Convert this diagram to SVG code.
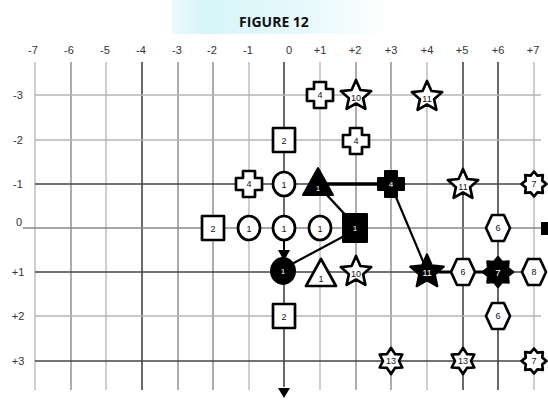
<svg xmlns="http://www.w3.org/2000/svg" width="548" height="401" viewBox="0 0 548 401">
<style>
.bg{fill:#fff}
.g1{stroke:#b4b4b4;stroke-width:1.3;fill:none}
.g2{stroke:#888;stroke-width:1.4;fill:none}
.g3{stroke:#444;stroke-width:1.6;fill:none}
.ax{font-family:"Liberation Sans",Arial,sans-serif;font-size:11px;fill:#333;text-anchor:middle}
.title{font-family:"Open Sans","Liberation Sans",sans-serif;font-size:14px;font-weight:bold;fill:#111;text-anchor:middle}
.w{fill:#fff;stroke:#000;stroke-width:2.7;stroke-linejoin:round}
.b{fill:#000;stroke:#000;stroke-width:2;stroke-linejoin:round}
.t{font-family:"Liberation Sans",Arial,sans-serif;font-size:9px;fill:#111;text-anchor:middle}
.tw{font-family:"Liberation Sans",Arial,sans-serif;font-size:8px;fill:#fff;text-anchor:middle}
.c{stroke:#000;fill:none;stroke-linecap:round}
</style>
<defs>
<linearGradient id="tg" x1="0" y1="0" x2="1" y2="0">
<stop offset="0" stop-color="#dcf6fa" stop-opacity="0.6"/>
<stop offset="0.15" stop-color="#d6f5fa"/>
<stop offset="0.6" stop-color="#e8f9fc"/>
<stop offset="1" stop-color="#ffffff"/>
</linearGradient>
<ellipse id="circ" cx="0" cy="0" rx="11" ry="12"/>
<rect id="sq" x="-11" y="-12" width="22" height="24"/>
<polygon id="cross" points="-6,-13 6,-13 6,-6 13,-6 13,6 6,6 6,13 -6,13 -6,6 -13,6 -13,-6 -6,-6"/>
<polygon id="star5" points="0,-16 4.4,-6 15.2,-4.9 7.1,2.3 9.4,12.9 0,7.5 -9.4,12.9 -7.1,2.3 -15.2,-4.9 -4.4,-6"/>
<polygon id="tri" points="0,-15 15,12 -15,12"/>
<polygon id="hex" points="-12,0 -6,-13 6,-13 12,0 6,13 -6,13"/>
<polygon id="star6" points="0,-13 4,-6.9 11.3,-6.5 8,0 11.3,6.5 4,6.9 0,13 -4,6.9 -11.3,6.5 -8,0 -11.3,-6.5 -4,-6.9"/>
<polygon id="star8" points="0,-12.5 3.4,-8.3 8.8,-8.8 8.3,-3.4 12.5,0 8.3,3.4 8.8,8.8 3.4,8.3 0,12.5 -3.4,8.3 -8.8,8.8 -8.3,3.4 -12.5,0 -8.3,-3.4 -8.8,-8.8 -3.4,-8.3"/>
</defs>
<rect class="bg" x="0" y="0" width="548" height="401"/>
<rect x="172" y="0" width="220" height="34" fill="url(#tg)"/>
<text class="title" x="274" y="27">FIGURE 12</text>

<g id="axis-labels">
<text class="ax" x="33" y="54">-7</text>
<text class="ax" x="69" y="54">-6</text>
<text class="ax" x="105" y="54">-5</text>
<text class="ax" x="141" y="54">-4</text>
<text class="ax" x="177" y="54">-3</text>
<text class="ax" x="212" y="54">-2</text>
<text class="ax" x="248" y="54">-1</text>
<text class="ax" x="289" y="54">0</text>
<text class="ax" x="320" y="54">+1</text>
<text class="ax" x="355" y="54">+2</text>
<text class="ax" x="391" y="54">+3</text>
<text class="ax" x="427" y="54">+4</text>
<text class="ax" x="462" y="54">+5</text>
<text class="ax" x="498" y="54">+6</text>
<text class="ax" x="533" y="54">+7</text>
<text class="ax" x="18" y="99">-3</text>
<text class="ax" x="18" y="144">-2</text>
<text class="ax" x="18" y="188">-1</text>
<text class="ax" x="19" y="226">0</text>
<text class="ax" x="18" y="276">+1</text>
<text class="ax" x="18" y="320">+2</text>
<text class="ax" x="18" y="365">+3</text>
</g>

<g id="grid">
<line class="g1" x1="35" y1="62" x2="35" y2="390"/>
<line class="g2" x1="71" y1="62" x2="71" y2="390"/>
<line class="g1" x1="106" y1="62" x2="106" y2="390"/>
<line class="g3" x1="142" y1="62" x2="142" y2="390"/>
<line class="g2" x1="178" y1="62" x2="178" y2="390"/>
<line class="g2" x1="213" y1="62" x2="213" y2="390"/>
<line class="g1" x1="249" y1="62" x2="249" y2="390"/>
<line class="g3" x1="284" y1="62" x2="284" y2="387"/>
<line class="g1" x1="320" y1="62" x2="320" y2="390"/>
<line class="g2" x1="356" y1="62" x2="356" y2="390"/>
<line class="g2" x1="391" y1="62" x2="391" y2="390"/>
<line class="g1" x1="427" y1="62" x2="427" y2="390"/>
<line class="g3" x1="463" y1="62" x2="463" y2="390"/>
<line class="g3" x1="498" y1="62" x2="498" y2="390"/>
<line class="g1" x1="534" y1="62" x2="534" y2="390"/>
<line class="g1" x1="35" y1="95" x2="541" y2="95"/>
<line class="g1" x1="35" y1="140" x2="541" y2="140"/>
<line class="g3" x1="35" y1="184" x2="541" y2="184"/>
<line class="g2" x1="23" y1="228" x2="541" y2="228"/>
<line class="g3" x1="35" y1="272" x2="541" y2="272"/>
<line class="g1" x1="35" y1="316" x2="541" y2="316"/>
<line class="g3" x1="35" y1="361" x2="541" y2="361"/>
</g>

<g id="connectors">
<line class="c" x1="320" y1="184" x2="391" y2="184" stroke-width="3.5"/>
<line class="c" x1="326" y1="194" x2="350" y2="220" stroke-width="2.5"/>
<line class="c" x1="348" y1="234" x2="290" y2="265" stroke-width="2.2"/>
<line class="c" x1="284" y1="240" x2="284" y2="252" stroke-width="2"/>
<polygon points="278,250 290,250 284,261" fill="#000"/>
<line class="c" x1="393" y1="190" x2="425" y2="266" stroke-width="2.2"/>
<line class="c" x1="427" y1="272" x2="498" y2="272" stroke-width="3"/>
<polygon points="278,388 290,388 284,398" fill="#000"/>
<polygon points="541,222 548,222 548,235 541,235" fill="#000"/>
</g>

<g id="n-m3-p1" transform="translate(320,95)"><use href="#cross" class="w"/><text class="t" y="3">4</text></g>
<g id="n-m3-p2" transform="translate(356,96)"><use href="#star5" class="w"/><text class="t" y="5" font-size="7">10</text></g>
<g id="n-m3-p4" transform="translate(427,97)"><use href="#star5" class="w"/><text class="t" y="5" font-size="7">11</text></g>

<g id="n-m2-0" transform="translate(284,140)"><use href="#sq" class="w"/><text class="t" y="4" font-size="10">2</text></g>
<g id="n-m2-p2" transform="translate(356,141)"><use href="#cross" class="w"/><text class="t" y="3">4</text></g>

<g id="n-m1-m1" transform="translate(249,184)"><use href="#cross" class="w"/><text class="t" y="3">4</text></g>
<g id="n-m1-0" transform="translate(284,184)"><use href="#circ" class="w"/><text class="t" y="4" font-size="10">1</text></g>
<g id="n-m1-p1" transform="translate(318,183)"><use href="#tri" class="b"/><text class="tw" y="8">1</text></g>
<g id="n-m1-p3" transform="translate(391,184)"><use href="#cross" class="b"/><text class="tw" y="3">4</text></g>
<g id="n-m1-p5" transform="translate(463,185)"><use href="#star5" class="w"/><text class="t" y="5" font-size="7">11</text></g>
<g id="n-m1-p7" transform="translate(534,184)"><use href="#star8" class="w"/><text class="t" y="3" font-size="8">7</text></g>

<g id="n-0-m2" transform="translate(213,228)"><use href="#sq" class="w"/><text class="t" y="4" font-size="10">2</text></g>
<g id="n-0-m1" transform="translate(249,228)"><use href="#circ" class="w"/><text class="t" y="4" font-size="10">1</text></g>
<g id="n-0-0" transform="translate(284,228)"><use href="#circ" class="w"/><text class="t" y="4" font-size="10">1</text></g>
<g id="n-0-p1" transform="translate(320,228)"><use href="#circ" class="w"/><text class="t" y="4" font-size="10">1</text></g>
<g id="n-0-p2" transform="translate(355,228)"><rect x="-12" y="-14" width="24" height="28" class="b"/><text class="tw" y="3">1</text></g>
<g id="n-0-p6" transform="translate(498,228)"><use href="#hex" class="w"/><text class="t" y="3">6</text></g>

<g id="n-p1-0" transform="translate(283,271)"><ellipse rx="12" ry="13" class="b"/><text class="tw" y="3">1</text></g>
<g id="n-p1-p1" transform="translate(321,274)"><use href="#tri" class="w"/><text class="t" y="8">1</text></g>
<g id="n-p1-p2" transform="translate(356,272)"><use href="#star5" class="w"/><text class="t" y="5" font-size="7">10</text></g>
<g id="n-p1-p4" transform="translate(427,272) scale(1.1)"><use href="#star5" class="b"/><text class="tw" y="4" font-size="6">11</text></g>
<g id="n-p1-p5" transform="translate(463,272)"><use href="#hex" class="w"/><text class="t" y="3">6</text></g>
<g id="n-p1-p6" transform="translate(498,272) scale(1.2)"><use href="#star8" class="b"/><text class="tw" y="3" font-size="7">7</text></g>
<g id="n-p1-p7" transform="translate(534,272)"><use href="#hex" class="w"/><text class="t" y="3">8</text></g>

<g id="n-p2-0" transform="translate(284,316)"><use href="#sq" class="w"/><text class="t" y="4" font-size="10">2</text></g>
<g id="n-p2-p6" transform="translate(498,316)"><use href="#hex" class="w"/><text class="t" y="3">6</text></g>

<g id="n-p3-p3" transform="translate(391,361)"><use href="#star6" class="w"/><text class="t" y="3" font-size="7">13</text></g>
<g id="n-p3-p5" transform="translate(463,361)"><use href="#star6" class="w"/><text class="t" y="3" font-size="7">13</text></g>
<g id="n-p3-p7" transform="translate(534,361)"><use href="#star8" class="w"/><text class="t" y="3" font-size="8">7</text></g>
</svg>
